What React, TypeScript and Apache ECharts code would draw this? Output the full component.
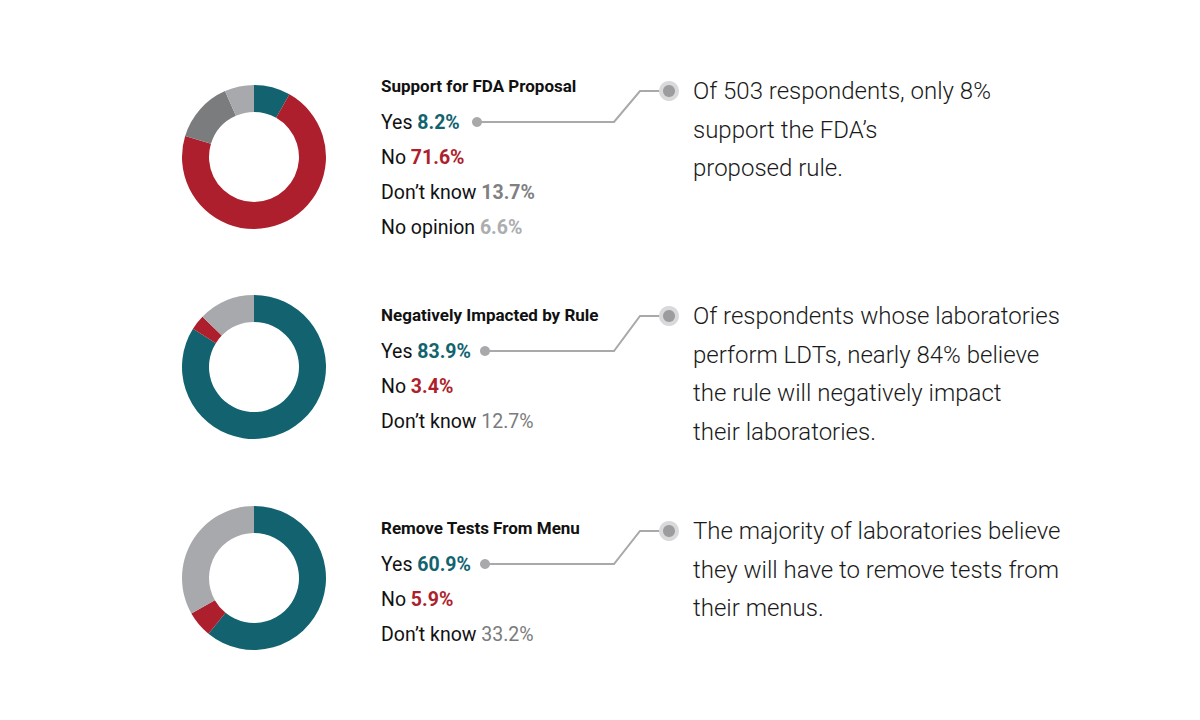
import React, { useEffect, useRef } from "react";
import * as echarts from "echarts";

const titles = ["Support for FDA Proposal", "Negatively Impacted by Rule", "Remove Tests From Menu"];
const labels1 = ["Yes", "No", "Don’t know", "No opinion"];
const values1 = [8.2, 71.6, 13.7, 6.6];
const labels2 = ["Yes", "No", "Don’t know"];
const values2 = [83.9, 3.4, 12.7];
const labels3 = ["Yes", "No", "Don’t know"];
const values3 = [60.9, 5.9, 33.2];
const notes = [
  ["Of 503 respondents, only 8%", "support the FDA’s", "proposed rule."],
  ["Of respondents whose laboratories", "perform LDTs, nearly 84% believe", "the rule will negatively impact", "their laboratories."],
  ["The majority of laboratories believe", "they will have to remove tests from", "their menus."],
];

const TEAL = "#12636f";
const RED = "#ad1f2c";
const DGRAY = "#7b7c7e";
const LGRAY = "#a8a9ac";

const colors1 = [TEAL, RED, DGRAY, LGRAY];
const colors23 = [TEAL, RED, LGRAY];
const textColors1 = [TEAL, RED, "#7f8082", "#acadb0"];
const textColors23 = [TEAL, RED, "#7a7b7d"];
const valueWeights1 = [700, 700, 700, 700];
const valueWeights23 = [700, 700, 400];

const blocks = [
  { labels: labels1, values: values1, colors: colors1, tcolors: textColors1, weights: valueWeights1, cy: 157, titleY: 86, dotX: 477, noteY: 91 },
  { labels: labels2, values: values2, colors: colors23, tcolors: textColors23, weights: valueWeights23, cy: 367, titleY: 315, dotX: 485, noteY: 316 },
  { labels: labels3, values: values3, colors: colors23, tcolors: textColors23, weights: valueWeights23, cy: 578, titleY: 528, dotX: 485, noteY: 531 },
];

export default function App() {
  const ref = useRef<HTMLDivElement>(null);
  useEffect(() => {
    if (!ref.current) return;
    const chart = echarts.init(ref.current, null, { renderer: "svg" });
    const series: any[] = [];
    const graphic: any[] = [];
    blocks.forEach((b, bi) => {
      series.push({
        type: "pie",
        center: [254, b.cy],
        radius: [45, 72],
        startAngle: 90,
        clockwise: true,
        label: { show: false },
        labelLine: { show: false },
        silent: true,
        data: b.values.map((v, i) => ({ name: b.labels[i], value: v, itemStyle: { color: b.colors[i] } })),
      });
      graphic.push({
        type: "text",
        x: 381,
        y: b.titleY,
        style: { text: titles[bi], font: "bold 17px Roboto", fill: "#111", verticalAlign: "middle" },
      });
      const rowY0 = b.titleY + 36;
      b.labels.forEach((l, i) => {
        graphic.push({
          type: "text",
          x: 381,
          y: rowY0 + i * 35,
          style: {
            text: `{l|${l} }{v|${b.values[i].toFixed(1)}%}`,
            verticalAlign: "middle",
            rich: {
              l: { fontFamily: "Roboto", fontSize: 19.5, fill: "#111" },
              v: { fontFamily: "Roboto", fontSize: 19.5, fontWeight: b.weights[i], fill: b.tcolors[i] },
            },
          },
        });
      });
      const yRow = rowY0;
      graphic.push({
        type: "polyline",
        shape: { points: [[b.dotX, yRow], [614, yRow], [640, b.noteY], [668, b.noteY]] },
        style: { stroke: "#a9a9ab", lineWidth: 2, fill: null },
      });
      graphic.push({ type: "circle", shape: { cx: b.dotX, cy: yRow, r: 5 }, style: { fill: "#a9a9ab" } });
      graphic.push({ type: "circle", shape: { cx: 669, cy: b.noteY, r: 10 }, style: { fill: "#d9d9db" } });
      graphic.push({ type: "circle", shape: { cx: 669, cy: b.noteY, r: 6 }, style: { fill: "#9c9c9f" } });
      notes[bi].forEach((line, li) => {
        graphic.push({
          type: "text",
          x: 693,
          y: b.noteY + li * 38.7,
          style: { text: line, font: "300 24px Roboto", fill: "#1a1a1a", verticalAlign: "middle" },
        });
      });
    });
    chart.setOption({
      animation: false,
      backgroundColor: "#ffffff",
      series,
      graphic,
    });
    return () => chart.dispose();
  }, []);
  return <div ref={ref} style={{ position: "absolute", left: 0, top: 0, width: 1200, height: 720 }} />;
}
